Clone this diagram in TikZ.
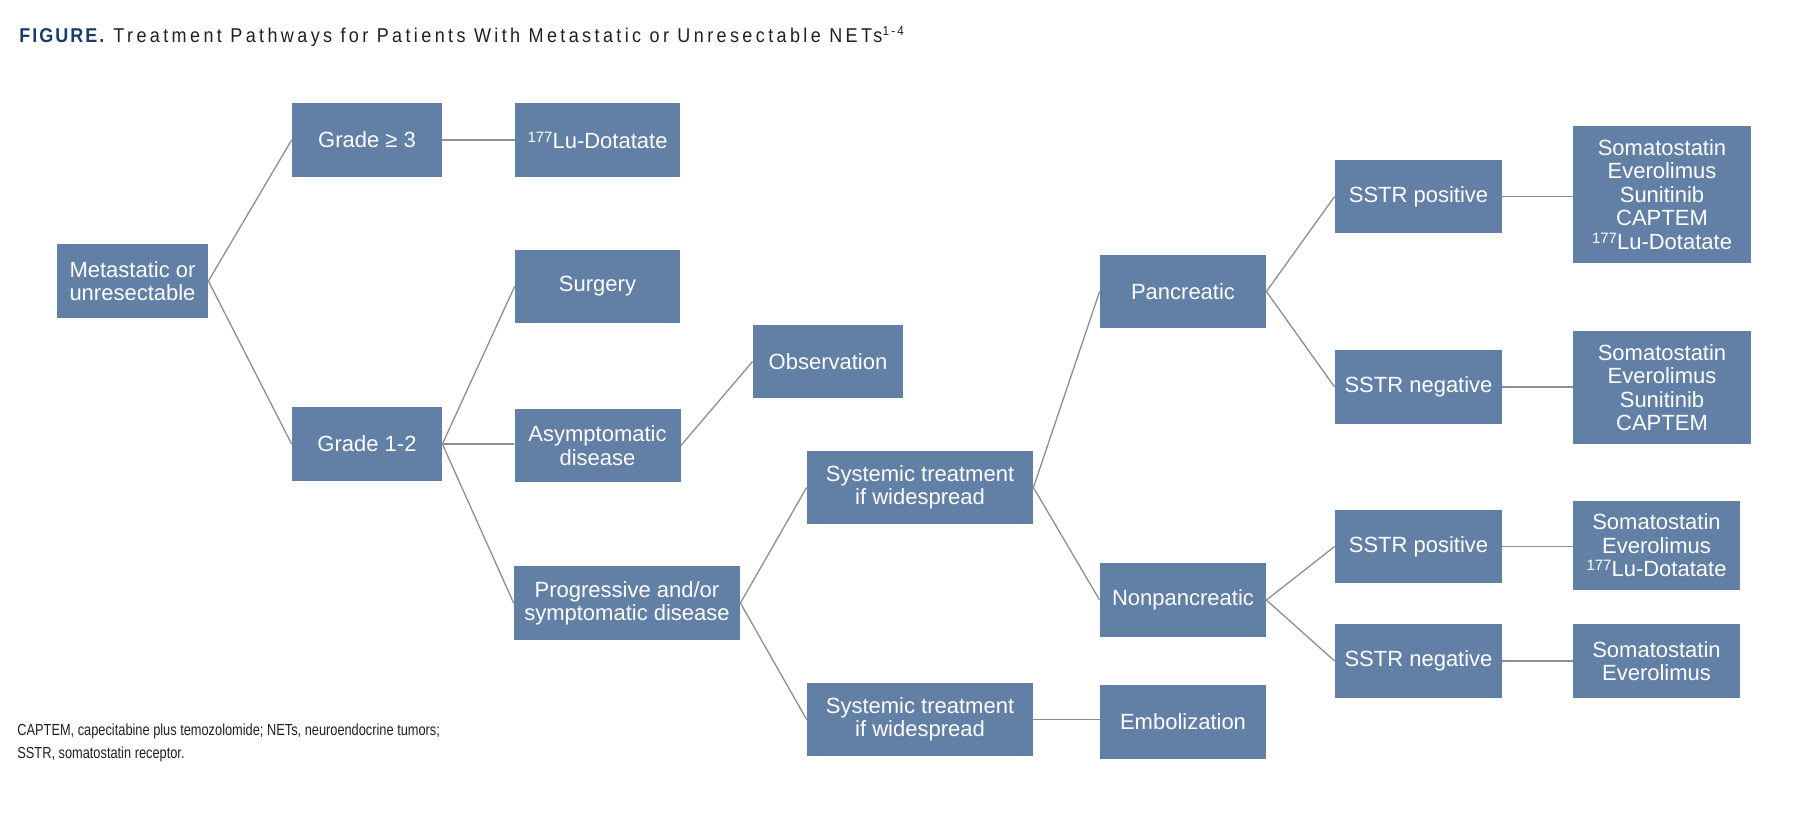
\documentclass[tikz,border=0pt]{standalone}
\usepackage{fontspec}
\setmainfont{Liberation Sans}
\newfontfamily\figfont[LetterSpace=10,FakeStretch=0.9]{Liberation Sans}
\newfontfamily\titlefont[LetterSpace=17,FakeStretch=0.9]{Liberation Sans}
\newfontfamily\notefont[FakeStretch=0.8]{Liberation Sans}
\newcommand\isotope[1]{\raisebox{0.27em}{\fontsize{7.5}{7.5}\selectfont #1}}
\definecolor{boxblue}{HTML}{627FA6}
\definecolor{linegray}{HTML}{8E8E8E}
\definecolor{navy}{HTML}{1A3A6B}
\definecolor{ink}{HTML}{231F20}
\begin{document}
\begin{tikzpicture}[x=0.5pt,y=-0.5pt,
  box/.style={fill=boxblue, text=white, inner sep=0pt, align=center,
    font=\fontsize{11}{11.7}\selectfont},
  sz/.style 2 args={minimum width=#1*0.5pt, minimum height=#2*0.5pt},
  conn/.style={draw=linegray, line width=0.65pt}]
\useasboundingbox (0,0) rectangle (1814,816);

\node[anchor=base west, inner sep=0pt, text=ink] (title) at (19,42)
  {\fontsize{10}{12}\selectfont{\figfont\bfseries\textcolor{navy}{FIGURE.}}\hspace{4.5pt}\titlefont Treatment Pathways for Patients With Metastatic or Unresectable NETs\raisebox{0.32em}{\fontsize{6.5}{6.5}\selectfont 1-4}};

\node[box, sz={151}{74}] (met) at (132.5,281) {Metastatic or\\unresectable};
\node[box, sz={150}{74}] (g3) at (367,140) {Grade ≥ 3};
\node[box, sz={165}{74}] (lu) at (597.5,140) {\isotope{177}Lu-Dotatate};
\node[box, sz={165}{73}] (surg) at (597.5,286.5) {Surgery};
\node[box, sz={150}{74}] (g12) at (367,444) {Grade 1-2};
\node[box, sz={166}{73}] (asym) at (597.5,445.5) {Asymptomatic\\disease};
\node[box, sz={150}{73}] (obs) at (828,361.5) {Observation};
\node[box, sz={226}{74}] (prog) at (627,603) {Progressive and/or\\symptomatic disease};
\node[box, sz={226}{73}] (sysu) at (920,487.5) {Systemic treatment\\if widespread};
\node[box, sz={226}{73}] (sysl) at (920,719.5) {Systemic treatment\\if widespread};
\node[box, sz={166}{74}] (emb) at (1183,722) {Embolization};
\node[box, sz={166}{73}] (panc) at (1183,291.5) {Pancreatic};
\node[box, sz={166}{74}] (nonp) at (1183,600) {Nonpancreatic};
\node[box, sz={167}{73}] (sp1) at (1418.5,196.5) {SSTR positive};
\node[box, sz={167}{74}] (sn1) at (1418.5,387) {SSTR negative};
\node[box, sz={167}{73}] (sp2) at (1418.5,546.5) {SSTR positive};
\node[box, sz={167}{74}] (sn2) at (1418.5,661) {SSTR negative};
\node[box, sz={178}{137}] (l1) at (1662,194.5) {Somatostatin\\Everolimus\\Sunitinib\\CAPTEM\\\isotope{177}Lu-Dotatate};
\node[box, sz={178}{113}] (l2) at (1662,387.5) {Somatostatin\\Everolimus\\Sunitinib\\CAPTEM};
\node[box, sz={167}{89}] (l3) at (1656.5,545.5) {Somatostatin\\Everolimus\\\isotope{177}Lu-Dotatate};
\node[box, sz={167}{74}] (l4) at (1656.5,661) {Somatostatin\\Everolimus};

\draw[conn] (met.east) -- (g3.west);
\draw[conn] (met.east) -- (g12.west);
\draw[conn] (g3.east) -- (g3.east -| lu.west);
\draw[conn] (g12.east) -- (surg.west);
\draw[conn] (g12.east) -- (g12.east -| asym.west);
\draw[conn] (g12.east) -- (prog.west);
\draw[conn] (asym.east) -- (obs.west);
\draw[conn] (prog.east) -- (sysu.west);
\draw[conn] (prog.east) -- (sysl.west);
\draw[conn] (sysu.east) -- (panc.west);
\draw[conn] (sysu.east) -- (nonp.west);
\draw[conn] (sysl.east) -- (sysl.east -| emb.west);
\draw[conn] (panc.east) -- (sp1.west);
\draw[conn] (panc.east) -- (sn1.west);
\draw[conn] (nonp.east) -- (sp2.west);
\draw[conn] (nonp.east) -- (sn2.west);
\draw[conn] (sp1.east) -- (sp1.east -| l1.west);
\draw[conn] (sn1.east) -- (sn1.east -| l2.west);
\draw[conn] (sp2.east) -- (sp2.east -| l3.west);
\draw[conn] (sn2.east) -- (sn2.east -| l4.west);

\node[anchor=north west, inner sep=0pt, align=left, text=ink,
  font=\notefont\fontsize{8}{11.5}\selectfont] (note) at (17,723)
  {CAPTEM, capecitabine plus temozolomide; NETs, neuroendocrine tumors;\\SSTR, somatostatin receptor.};
\end{tikzpicture}
\end{document}
